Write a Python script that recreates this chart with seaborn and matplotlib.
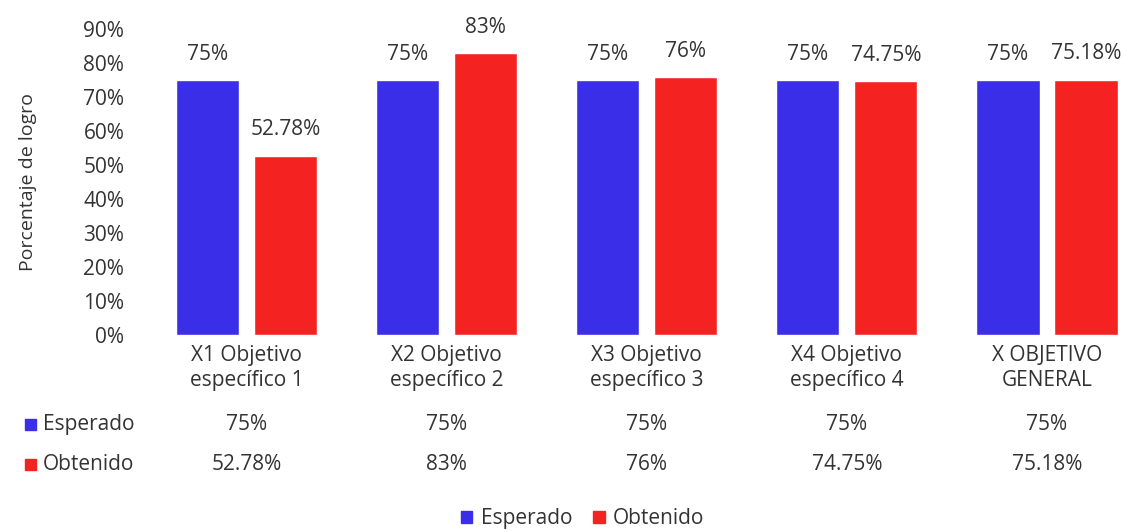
import pandas as pd
import seaborn as sns
import matplotlib.pyplot as plt
from matplotlib.ticker import PercentFormatter

# data
categories = [
    "X1 Objetivo\nespecífico 1",
    "X2 Objetivo\nespecífico 2",
    "X3 Objetivo\nespecífico 3",
    "X4 Objetivo\nespecífico 4",
    "X OBJETIVO\nGENERAL",
]
esperado = [75, 75, 75, 75, 75]
obtenido = [52.78, 83, 76, 74.75, 75.18]
series = ["Esperado", "Obtenido"]
colors = ["#3a2ee8", "#f52222"]
text_color = "#333333"

df = pd.DataFrame({
    "categoria": categories * 2,
    "serie": [series[0]] * len(categories) + [series[1]] * len(categories),
    "valor": esperado + obtenido,
})

sns.set_theme(style="white")
plt.rcParams["font.family"] = ["Open Sans", "DejaVu Sans"]
plt.rcParams["text.color"] = text_color

fs = 15

fig = plt.figure(figsize=(11.27, 5.31), dpi=100)
ax = fig.add_axes([0.130, 0.369, 0.870, 0.576])

sns.barplot(
    data=df, x="categoria", y="valor", hue="serie",
    palette=colors, saturation=1, width=0.78, gap=0.19, ax=ax, legend=False,
)

ax.set_ylim(0, 90)
ax.set_xlim(-0.5, 4.4)
ax.set_yticks(range(0, 91, 10))
ax.yaxis.set_major_formatter(PercentFormatter(decimals=0))
ax.tick_params(axis="both", length=0, labelsize=fs, labelcolor=text_color)
ax.tick_params(axis="y", pad=16)
ax.tick_params(axis="x", pad=7)
for lbl in ax.get_xticklabels():
    lbl.set_linespacing(1.25)
ax.set_xlabel("")
ax.set_ylabel("Porcentaje de logro", fontsize=14, color=text_color)
ax.yaxis.set_label_coords(-0.112, 0.5)
sns.despine(ax=ax, left=True, bottom=True)

# value labels above the bars
for container, vals in zip(ax.containers, [esperado, obtenido]):
    ax.bar_label(container, labels=[f"{v:g}%" for v in vals],
                 padding=11, fontsize=fs, color=text_color)

# data table under the chart
row_y = [0.2015, 0.126]
for i, (name, vals) in enumerate(zip(series, [esperado, obtenido])):
    fig.patches.append(plt.Rectangle(
        (0.0225, row_y[i] - 0.011), 0.0095, 0.021,
        transform=fig.transFigure, color=colors[i]))
    fig.text(0.038, row_y[i], name, fontsize=fs, va="center", ha="left")
    for j, v in enumerate(vals):
        x_fig = fig.transFigure.inverted().transform(
            ax.transData.transform((j, 0)))[0]
        fig.text(x_fig, row_y[i], f"{v:g}%", fontsize=fs,
                 va="center", ha="center")

handles = [plt.Rectangle((0, 0), 1, 1, color=c) for c in colors]
fig.legend(handles, series, loc="center", bbox_to_anchor=(0.517, 0.023),
           ncol=2, frameon=False, fontsize=fs, handlelength=0.55,
           handleheight=0.55, handletextpad=0.4, columnspacing=1.0)

fig.savefig("out.png", dpi=100)
